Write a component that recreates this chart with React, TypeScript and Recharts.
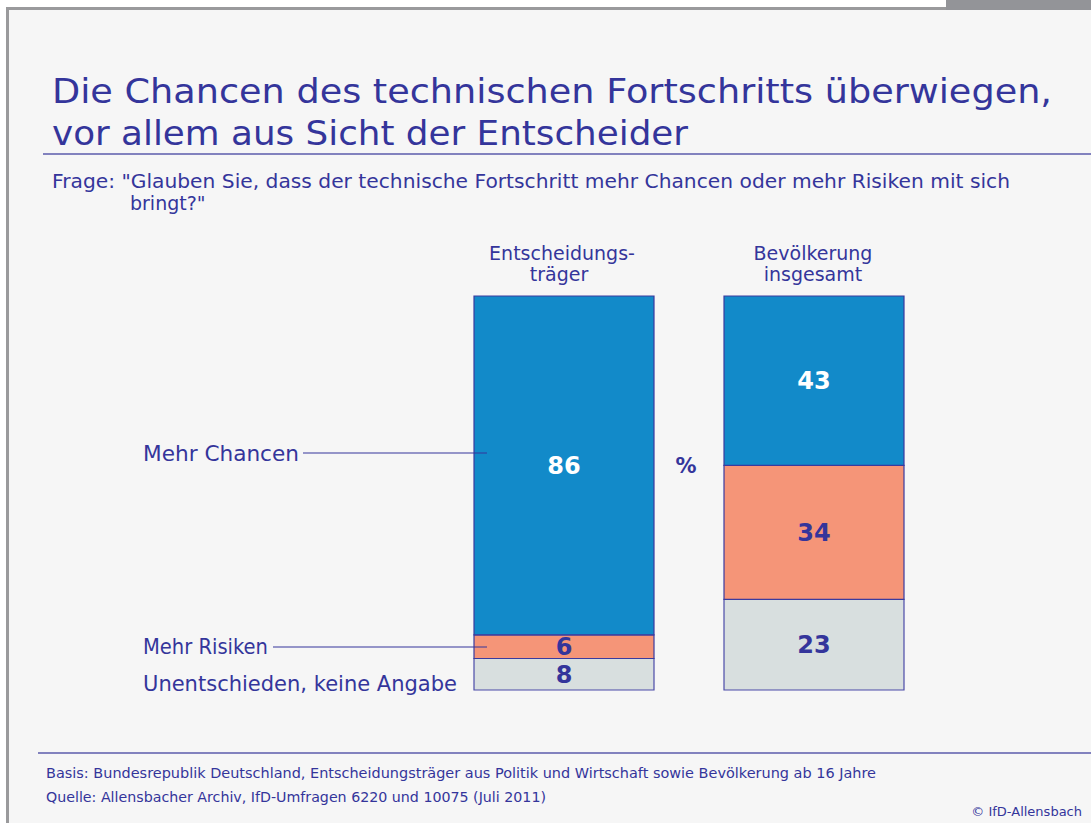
import { BarChart, Bar, XAxis, YAxis, LabelList } from "recharts";

const categories = ["Entscheidungsträger", "Bevölkerung insgesamt"];
const mehrChancen = [86, 43];
const mehrRisiken = [6, 34];
const unentschieden = [8, 23];

const INK = "#34359b";
const FONT = "'DejaVu Sans', sans-serif";

const data = categories.map((name, i) => ({
  name,
  chancen: mehrChancen[i],
  risiken: mehrRisiken[i],
  unentschieden: unentschieden[i],
}));

const labelStyle = { fontFamily: FONT, fontSize: 24, fontWeight: 700 };

export default function App() {
  return (
    <div
      style={{
        position: "absolute",
        left: 0,
        top: 0,
        width: 1091,
        height: 823,
        background: "#ffffff",
        overflow: "hidden",
        fontFamily: FONT,
      }}
    >
      {/* frame */}
      <div
        style={{
          position: "absolute",
          left: 6,
          top: 7,
          width: 1085,
          height: 816,
          background: "#f6f6f6",
          borderLeft: "3px solid #9a9a9c",
          borderTop: "3px solid #9a9a9c",
          boxSizing: "border-box",
        }}
      />
      <div
        style={{
          position: "absolute",
          left: 946,
          top: 0,
          width: 145,
          height: 10,
          background: "#939498",
        }}
      />

      <div style={{ position: "absolute", left: 0, top: 0 }}>
        <BarChart
          width={1091}
          height={823}
          data={data}
          margin={{ top: 296, bottom: 133, left: 439, right: 152 }}
        >
          <XAxis dataKey="name" hide />
          <YAxis hide domain={[0, 100]} />
          <Bar
            dataKey="unentschieden"
            stackId="a"
            fill="#d8dfdf"
            stroke="#4b4ba8"
            strokeWidth={1.2}
            barSize={180}
            isAnimationActive={false}
          >
            <LabelList dataKey="unentschieden" position="center" fill={INK} style={labelStyle} />
          </Bar>
          <Bar
            dataKey="risiken"
            stackId="a"
            fill="#f59578"
            stroke="#3a3a9e"
            strokeWidth={1.2}
            barSize={180}
            isAnimationActive={false}
          >
            <LabelList dataKey="risiken" position="center" fill={INK} style={labelStyle} />
          </Bar>
          <Bar
            dataKey="chancen"
            stackId="a"
            fill="#128ac9"
            stroke="#3a3a9e"
            strokeWidth={1.2}
            barSize={180}
            isAnimationActive={false}
          >
            <LabelList dataKey="chancen" position="center" fill="#ffffff" style={labelStyle} />
          </Bar>
        </BarChart>
      </div>

      {/* texts and rules */}
      <svg
        width={1091}
        height={823}
        style={{ position: "absolute", left: 0, top: 0, pointerEvents: "none" }}
        fontFamily={FONT}
        fill={INK}
      >
        <text x={52} y={103} fontSize={33} textLength={1000} lengthAdjust="spacingAndGlyphs">
          Die Chancen des technischen Fortschritts überwiegen,
        </text>
        <text x={52} y={145} fontSize={33} textLength={636} lengthAdjust="spacingAndGlyphs">
          vor allem aus Sicht der Entscheider
        </text>
        <line x1={43} y1={154} x2={1091} y2={154} stroke="#5b5bab" strokeWidth={1.5} />

        <text x={52} y={188} fontSize={19} textLength={958} lengthAdjust="spacingAndGlyphs">
          Frage:  "Glauben Sie, dass der technische Fortschritt mehr Chancen oder mehr Risiken mit sich
        </text>
        <text x={130} y={210} fontSize={19}>
          bringt?"
        </text>

        <text x={562} y={260} fontSize={19} textAnchor="middle">
          Entscheidungs-
        </text>
        <text x={559} y={281} fontSize={19} textAnchor="middle">
          träger
        </text>
        <text x={813} y={260} fontSize={19} textAnchor="middle">
          Bevölkerung
        </text>
        <text x={813} y={281} fontSize={19} textAnchor="middle">
          insgesamt
        </text>

        <text x={686} y={473} fontSize={21} fontWeight={700} textAnchor="middle">
          %
        </text>

        <text x={143} y={461} fontSize={21} textLength={156} lengthAdjust="spacingAndGlyphs">
          Mehr Chancen
        </text>
        <line x1={303} y1={453} x2={487} y2={453} stroke={INK} strokeWidth={1} />
        <text x={143} y={654} fontSize={21} textLength={125} lengthAdjust="spacingAndGlyphs">
          Mehr Risiken
        </text>
        <line x1={273} y1={647} x2={487} y2={647} stroke={INK} strokeWidth={1} />
        <text x={143} y={691} fontSize={21} textLength={314} lengthAdjust="spacingAndGlyphs">
          Unentschieden, keine Angabe
        </text>

        <line x1={38} y1={753} x2={1091} y2={753} stroke="#5b5bab" strokeWidth={1.5} />
        <text x={46} y={778} fontSize={14} textLength={830} lengthAdjust="spacingAndGlyphs">
          Basis: Bundesrepublik Deutschland, Entscheidungsträger aus  Politik und Wirtschaft sowie Bevölkerung ab 16 Jahre
        </text>
        <text x={46} y={802} fontSize={14} textLength={500} lengthAdjust="spacingAndGlyphs">
          Quelle: Allensbacher Archiv, IfD-Umfragen 6220 und 10075 (Juli 2011)
        </text>
        <text x={1082} y={816} fontSize={13} textAnchor="end">
          © IfD-Allensbach
        </text>
      </svg>
    </div>
  );
}
